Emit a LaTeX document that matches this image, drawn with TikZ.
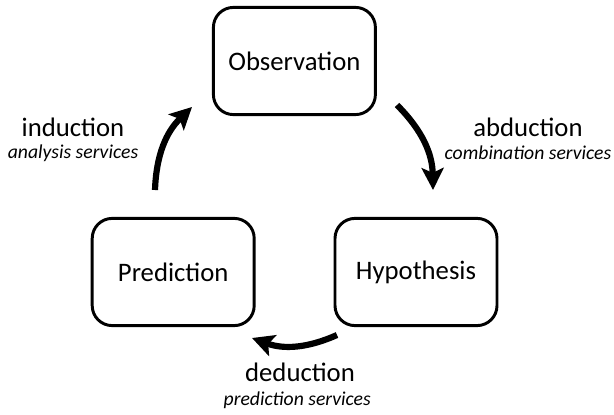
\documentclass[tikz,border=0pt]{standalone}
\usepackage{fontspec}
\setmainfont{Carlito}
\usetikzlibrary{positioning, arrows.meta, calc}
\tikzset{
  stage/.style={draw, line width=2.1pt, rounded corners=0.5cm, minimum width=4.05cm, minimum height=2.68cm, font=\fontsize{19}{22}\selectfont},
  cyc/.style={-{Stealth[length=0.55cm, width=0.55cm, inset=0.12cm]}, line width=4.4pt, bend left=22},
  mode/.style={font=\fontsize{19}{22}\selectfont, inner sep=0pt},
  serv/.style={font=\fontsize{14}{17}\selectfont\itshape, inner sep=0pt}
}

\begin{document}
\begin{tikzpicture}
    \useasboundingbox (0,0) rectangle (15.35,10.35);
    \node[stage] (obs)  at ( 7.36, 8.825) {Observation};
    \node[stage] (pred) at ( 4.33, 3.55)  {Prediction};
    \node[stage] (hyp)  at (10.40, 3.55)  {Hypothesis};
    %% free ends of the three cycle arrows
    \coordinate (ind-s) at (3.875, 5.6);
    \coordinate (ind-e) at (4.80, 7.675);
    \coordinate (abd-s) at (9.925, 7.725);
    \coordinate (abd-e) at (10.825, 5.6);
    \coordinate (ded-s) at (8.425, 1.975);
    \coordinate (ded-e) at (6.30, 1.90);
    \draw[cyc] (ind-s) to (ind-e);
    \draw[cyc] (abd-s) to (abd-e);
    \draw[cyc] (ded-s) to (ded-e);
    \node[mode] (ind) at (1.825, 7.175) {induction};
    \node[serv] (ind-x) at (1.825, 6.525) {analysis services};
    \node[mode] (abd) at (13.2, 7.175) {abduction};
    \node[serv] (abd-x) at (13.2, 6.525) {combination services};
    \node[mode] (ded) at (7.50, 1.05) {deduction};
    \node[serv] (ded-x) at (7.43, 0.35) {prediction services};
  \end{tikzpicture}
\end{document}
